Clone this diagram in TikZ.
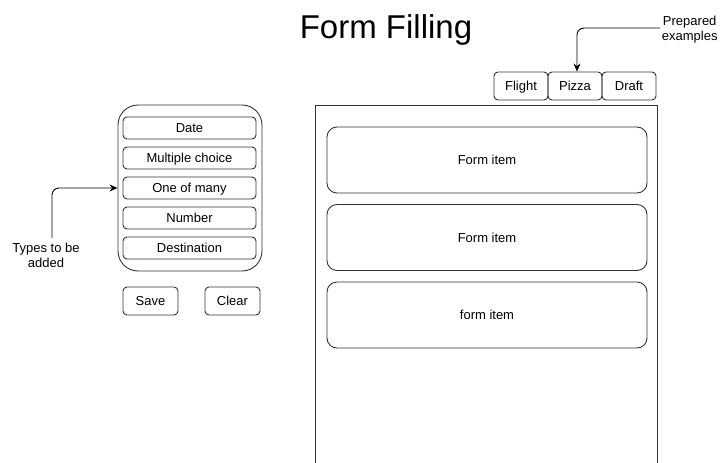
\documentclass[tikz,border=0pt]{standalone}
\usepackage{fontspec}
\setmainfont{Liberation Sans}
\usetikzlibrary{arrows.meta}
\definecolor{linegray}{HTML}{333333}
\begin{document}
\begin{tikzpicture}[x=1pt,y=-1pt,line width=0.9pt,
  every node/.style={text=black},
  ui/.style={draw=linegray,inner sep=0pt,align=center,font=\fontsize{13}{15}\selectfont,text height=11pt,text depth=1.7pt},
  typebox/.style={ui,rounded corners=4pt,minimum width=133pt,minimum height=22pt},
  tabbox/.style={ui,rounded corners=4pt,minimum width=54pt,minimum height=28pt},
  btnbox/.style={ui,rounded corners=4pt,minimum width=55pt,minimum height=28pt},
  panelbox/.style={draw=linegray,inner sep=0pt,rounded corners=20pt,minimum width=144pt,minimum height=166pt},
  formbox/.style={ui,rounded corners=10pt,minimum width=320pt,minimum height=66pt},
  note/.style={align=center,inner sep=0pt,font=\fontsize{13}{15}\selectfont},
  conn/.style={draw=black,line width=0.9pt,rounded corners=7pt,-{Stealth[length=8pt,width=7pt]}}]
\useasboundingbox (0,0) rectangle (721,463);

% heading
\node[inner sep=0pt,font=\fontsize{33}{38}\selectfont] (title) at (386,30) {Form Filling};

% palette of field types
\node[panelbox] (panel) at (190,188) {};
\node[typebox] (date) at (189.5,128) {Date};
\node[typebox] (multi) at (189.5,158) {Multiple choice};
\node[typebox] (one) at (189.5,188) {One of many};
\node[typebox] (num) at (189.5,218) {Number};
\node[typebox] (dest) at (189.5,248) {Destination};
\node[btnbox] (save) at (150.5,301) {Save};
\node[btnbox] (clear) at (232.5,301) {Clear};

\node[note] (types) at (46,255) {Types to be\\added};
\coordinate (typesTop) at (52,238);
\draw[conn] (typesTop) |- (one.west -| panel.west);

% example tabs
\node[tabbox] (flight) at (521,86) {Flight};
\node[tabbox] (pizza) at (575,86) {Pizza};
\node[tabbox] (draft) at (629,86) {Draft};

\node[note,anchor=east] (prep) at (718,30) {Prepared\\examples};
\coordinate (prepEnd) at (660,28);
\draw[conn] (prepEnd) -| ([xshift=2pt]pizza.north);

% form canvas (runs past the bottom edge)
\draw[linegray] (315.5,463) -- (315.5,105) -- (657,105) -- (657,463);
\node[formbox] (item1) at (487,160) {Form item};
\node[formbox] (item2) at (487,237.5) {Form item};
\node[formbox] (item3) at (487,315) {form item};
\end{tikzpicture}
\end{document}
